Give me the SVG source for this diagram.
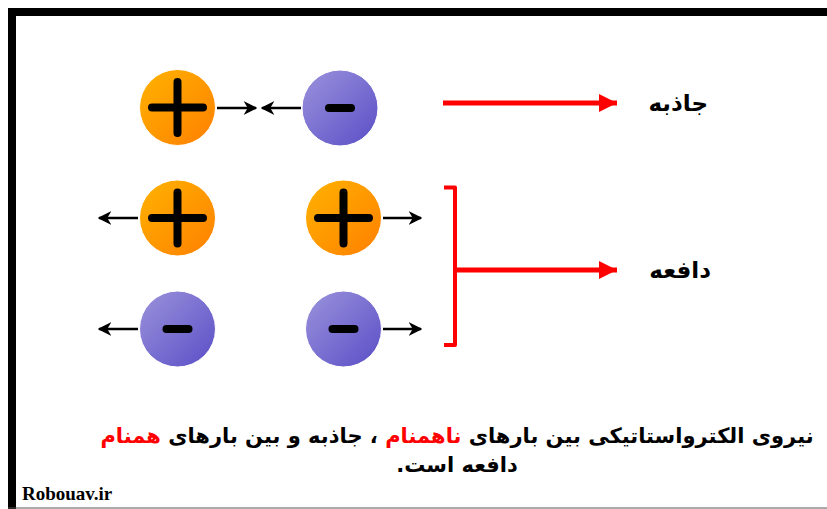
<svg xmlns="http://www.w3.org/2000/svg" width="827" height="509" viewBox="0 0 827 509">
<defs>
<linearGradient id="gPos" x1="0" y1="0" x2="1" y2="1">
<stop offset="0" stop-color="#FFB300"/>
<stop offset="1" stop-color="#FF7F00"/>
</linearGradient>
<linearGradient id="gNeg" x1="0" y1="0" x2="1" y2="1">
<stop offset="0" stop-color="#9B93DC"/>
<stop offset="1" stop-color="#5A4EC6"/>
</linearGradient>
<marker id="ah" viewBox="0 0 10 10" refX="9" refY="5" markerWidth="5.5" markerHeight="5.5" orient="auto" markerUnits="strokeWidth">
<path d="M0,0 L10,5 L0,10 L3,5 z" fill="#000"/>
</marker>
<marker id="rh" viewBox="0 0 10 10" refX="10" refY="5" markerWidth="3.6" markerHeight="3.6" orient="auto" markerUnits="strokeWidth">
<path d="M0,0 L10,5 L0,10 z" fill="#F00"/>
</marker>
</defs>
<style>
.pos{fill:url(#gPos);stroke:#fff;stroke-width:1}
.neg{fill:url(#gNeg);stroke:#fff;stroke-width:1}
.sign{stroke:#000;stroke-width:8;stroke-linecap:round;fill:none}
.blk{stroke:#000;stroke-width:2.5;fill:none;marker-end:url(#ah)}
.red{stroke:#F00;stroke-width:5;fill:none}
.lbl{font-family:"DejaVu Sans",sans-serif;font-weight:bold;font-size:23px;fill:#000}
.cap{font-family:"DejaVu Sans",sans-serif;font-weight:bold;font-size:21px;fill:#000}
</style>
<rect x="0" y="0" width="827" height="509" fill="#fff"/>
<g id="frame">
<rect x="8" y="8" width="819" height="8" fill="#000"/>
<rect x="8" y="8" width="8" height="501" fill="#000"/>
<line x1="8" y1="508" x2="827" y2="508" stroke="#555" stroke-width="1"/>
</g>
<g id="pos1"><circle class="pos" cx="177.5" cy="107.5" r="38"/><path class="sign" d="M152,107.5 H203 M177.5,82 V133"/></g>
<g id="neg1"><circle class="neg" cx="340" cy="108" r="38"/><path class="sign" d="M329,108 H351"/></g>
<g id="pos2"><circle class="pos" cx="177.5" cy="218" r="38"/><path class="sign" d="M152,218 H203 M177.5,192.5 V243.5"/></g>
<g id="pos3"><circle class="pos" cx="343.5" cy="218" r="38"/><path class="sign" d="M318,218 H369 M343.5,192.5 V243.5"/></g>
<g id="neg2"><circle class="neg" cx="177.5" cy="329" r="38"/><path class="sign" d="M166.5,329 H188.5"/></g>
<g id="neg3"><circle class="neg" cx="343.5" cy="329" r="38"/><path class="sign" d="M332.5,329 H354.5"/></g>
<g id="connectors">
<line class="blk" x1="217" y1="108" x2="256" y2="108"/>
<line class="blk" x1="301" y1="108" x2="262" y2="108"/>
<line class="blk" x1="138" y1="218" x2="99" y2="218"/>
<line class="blk" x1="383" y1="218" x2="421" y2="218"/>
<line class="blk" x1="138" y1="329" x2="99" y2="329"/>
<line class="blk" x1="383" y1="329" x2="421" y2="329"/>
<line class="red" x1="443" y1="103" x2="617" y2="103" marker-end="url(#rh)"/>
<path d="M444,187.5 H455 V345 H444" stroke="#F00" stroke-width="4" fill="none" stroke-linejoin="round"/>
<line class="red" x1="457" y1="270" x2="617" y2="270" marker-end="url(#rh)"/>
</g>
<g id="label-attract"><text class="lbl" x="708" y="111" text-anchor="start" direction="rtl">جاذبه</text></g>
<g id="label-repel"><text class="lbl" x="711" y="278" text-anchor="start" direction="rtl">دافعه</text></g>
<g id="caption">
<text class="cap" x="457" y="443" text-anchor="middle" direction="rtl">نیروی الکترواستاتیکی بین بارهای <tspan fill="#F00">ناهمنام</tspan> ، جاذبه و بین بارهای <tspan fill="#F00">همنام</tspan></text>
<text class="cap" x="457" y="472" text-anchor="middle" direction="rtl">دافعه است.</text>
</g>
<text x="22" y="500" font-family="Liberation Serif, serif" font-weight="bold" font-size="19" fill="#000">Robouav.ir</text>
</svg>
